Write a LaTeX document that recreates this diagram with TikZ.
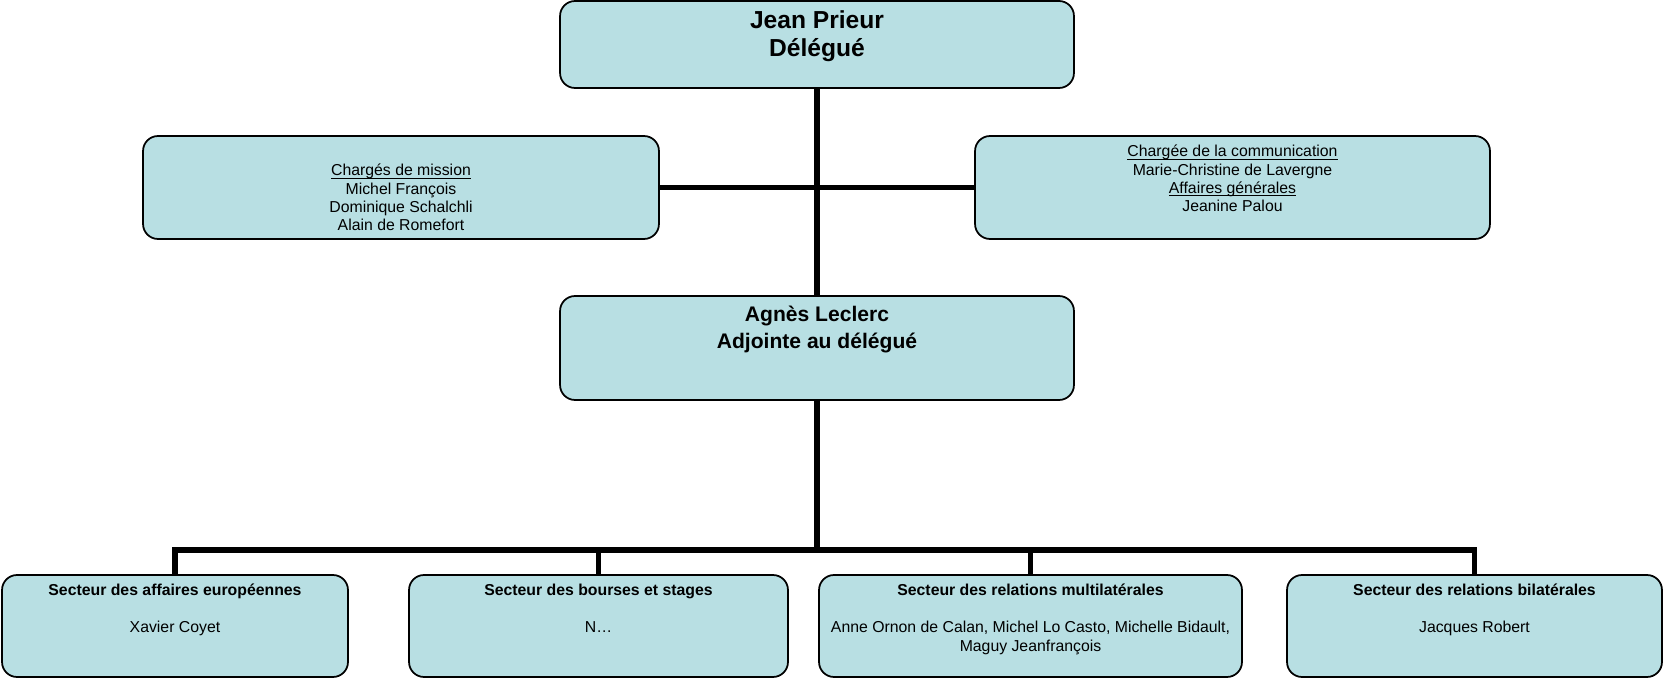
\documentclass[tikz,border=0pt]{standalone}
\usepackage{fontspec}
\setmainfont{Liberation Sans}
\usetikzlibrary{positioning, calc}
\definecolor{unitcyan}{HTML}{B8DFE3}
% underline close to the baseline, as in the original
\newcommand{\ulin}[1]{\underline{\raisebox{0pt}[\height][0pt]{#1}}}

\begin{document}
\begin{tikzpicture}[
    x=0.02cm, y=-0.02cm,
    every node/.style={font=\fontsize{9}{10.3}\selectfont},
    unit/.style={rectangle, draw=black, line width=1pt, rounded corners=0.3cm, fill=unitcyan, inner sep=0pt},
    head/.style={align=center, anchor=north, inner sep=0pt, font=\fontsize{12}{15}\selectfont\bfseries},
    body/.style={align=center, anchor=north, inner sep=0pt, font=\fontsize{9}{10.3}\selectfont},
    sector/.style={align=center, anchor=north, inner sep=0pt, font=\fontsize{9}{10.5}\selectfont},
    link/.style={line width=3.2pt, line join=miter},
]
\useasboundingbox (0,0) rectangle (1663,678);

% Delegue
\node[unit, minimum width=10.28cm, minimum height=1.74cm] (deleg) at (817,44.5) {};
\node[head, font=\fontsize{14}{16.2}\selectfont\bfseries] (deleg-txt) at (817,10) {Jean Prieur\\Délégué};

% Missions and communication
\node[unit, minimum width=10.32cm, minimum height=2.06cm] (mission) at (401,187.5) {};
\node[body] (mission-txt) at (401,164) {\ulin{Chargés de mission}\\Michel François\\Dominique Schalchli\\Alain de Romefort};
\node[unit, minimum width=10.3cm, minimum height=2.06cm] (comm) at (1232.5,187.5) {};
\node[body] (comm-txt) at (1232.5,145) {\ulin{Chargée de la communication}\\Marie-Christine de Lavergne\\\ulin{Affaires générales}\\Jeanine Palou};

% Adjointe
\node[unit, minimum width=10.28cm, minimum height=2.08cm] (adj) at (817,348) {};
\node[head] (adj-txt) at (817,306) {Agnès Leclerc\\Adjointe au délégué};

% Sectors
\node[unit, minimum width=6.92cm, minimum height=2.04cm] (europe) at (175,626) {};
\node[sector] (europe-txt) at (175,584) {\textbf{Secteur des affaires européennes}\\[10.5pt]Xavier Coyet};
\node[unit, minimum width=7.58cm, minimum height=2.04cm] (bourses) at (598.5,626) {};
\node[sector] (bourses-txt) at (598.5,584) {\textbf{Secteur des bourses et stages}\\[10.5pt]N…};
\node[unit, minimum width=8.46cm, minimum height=2.04cm] (multi) at (1030.5,626) {};
\node[sector] (multi-txt) at (1030.5,584) {\textbf{Secteur des relations multilatérales}\\[10.5pt]Anne Ornon de Calan, Michel Lo Casto, Michelle Bidault,\\Maguy Jeanfrançois};
\node[unit, minimum width=7.5cm, minimum height=2.04cm] (bilat) at (1474.5,626) {};
\node[sector] (bilat-txt) at (1474.5,584) {\textbf{Secteur des relations bilatérales}\\[10.5pt]Jacques Robert};

% Links
\coordinate (bus) at (817,550);
\draw[link] (deleg) -- (adj);
\draw[link] (mission) -- (comm);
\draw[link] (adj) -- (bus);
\foreach \s in {europe, bourses, multi, bilat}
    \draw[link] (bus) -| (\s);

\end{tikzpicture}
\end{document}
